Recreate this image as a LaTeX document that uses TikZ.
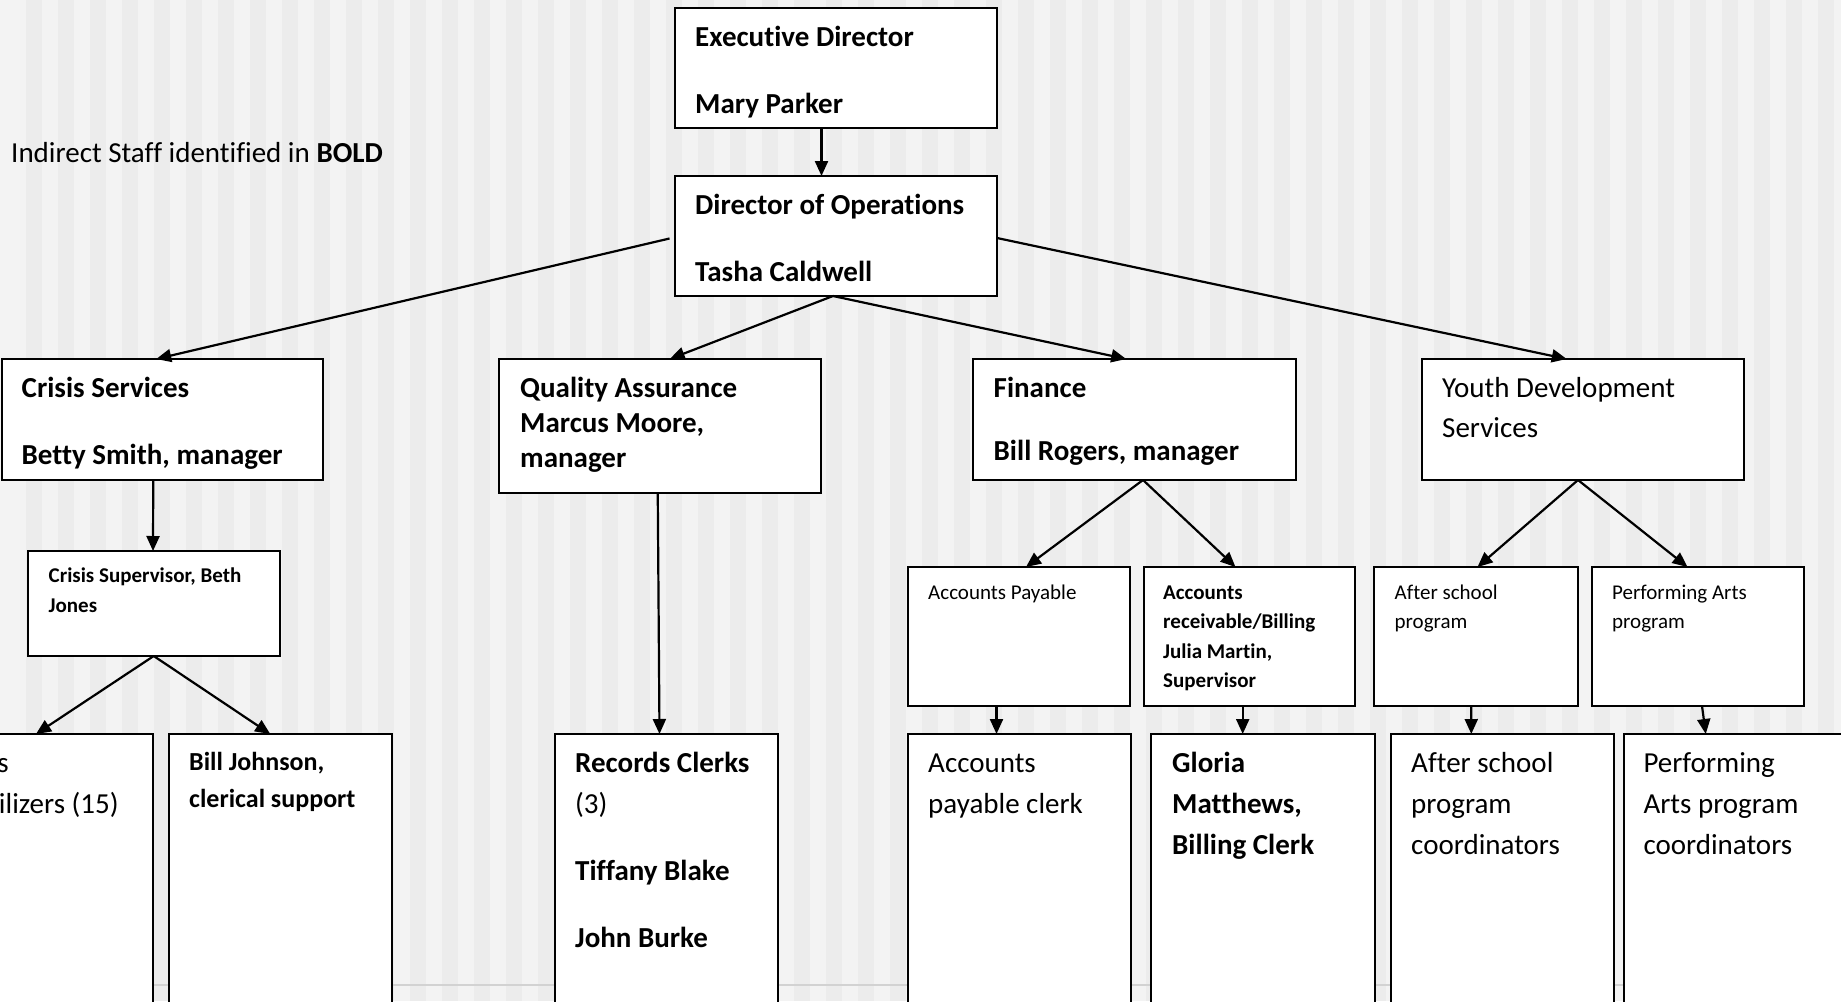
\documentclass[tikz,border=0pt]{standalone}
\usepackage{fontspec}
\setmainfont{Carlito}[Ligatures=NoCommon]
\usetikzlibrary{arrows.meta,calc}
\definecolor{bglight}{HTML}{F3F3F3}
\definecolor{bgdark}{HTML}{ECECEC}
\definecolor{ruleline}{HTML}{D2D2D2}
\begin{document}
\begin{tikzpicture}[x=1pt,y=-1pt,
  box/.style={draw=black, line width=2pt, fill=white, inner sep=0pt, outer sep=0pt, anchor=north west},
  big/.style={anchor=base west, inner sep=0pt, font=\fontsize{29}{35}\selectfont},
  bigb/.style={anchor=base west, inner sep=0pt, font=\fontsize{29}{35}\selectfont\bfseries},
  midb/.style={anchor=base west, inner sep=0pt, font=\fontsize{26}{31}\selectfont\bfseries},
  sm/.style={anchor=base west, inner sep=0pt, font=\fontsize{21}{25}\selectfont},
  smb/.style={anchor=base west, inner sep=0pt, font=\fontsize{21}{25}\selectfont\bfseries},
  arr/.style={line width=2.2pt, -{Triangle[length=15pt,width=13pt]}}]
\useasboundingbox (0,0) rectangle (1841,1001);
\clip (0,0) rectangle (1841,1001);
% background
\fill[bglight] (0,0) rectangle (1841,1001);
\foreach \k in {0,...,57} {\fill[bgdark] (26+32*\k,0) rectangle (42+32*\k,1001);}
\draw[ruleline, line width=1.5pt] (0,985) -- (1841,985);

% boxes
\node[box, minimum width=322pt, minimum height=120.5pt] (ed) at (675,7.5) {};
\node[box, minimum width=322pt, minimum height=120pt] (do) at (675,176) {};
\node[box, minimum width=321.5pt, minimum height=121pt] (cs) at (1.5,359) {};
\node[box, minimum width=322.5pt, minimum height=134pt] (qa) at (498.5,359) {};
\node[box, minimum width=322.5pt, minimum height=121pt] (fin) at (973,359) {};
\node[box, minimum width=322.5pt, minimum height=121pt] (yd) at (1421.5,359) {};
\node[box, minimum width=251.5pt, minimum height=105pt] (sup) at (28,551) {};
\node[box, minimum width=222pt, minimum height=139pt] (ap) at (907.5,567) {};
\node[box, minimum width=211pt, minimum height=139pt] (ar) at (1143.5,567) {};
\node[box, minimum width=203.5pt, minimum height=139pt] (as) at (1374,567) {};
\node[box, minimum width=212pt, minimum height=139pt] (pa) at (1591.5,567) {};
\node[box, minimum width=223pt, minimum height=280pt] (stab) at (-70,734) {};
\node[box, minimum width=223.5pt, minimum height=280pt] (bj) at (168.5,734) {};
\node[box, minimum width=223.5pt, minimum height=280pt] (rc) at (554.5,734) {};
\node[box, minimum width=223.5pt, minimum height=280pt] (apc) at (907.5,734) {};
\node[box, minimum width=224pt, minimum height=280pt] (gm) at (1150.5,734) {};
\node[box, minimum width=223pt, minimum height=280pt] (asc) at (1390.5,734) {};
\node[box, minimum width=230pt, minimum height=280pt] (pac) at (1623.5,734) {};

% connectors
\draw[arr] ($(ed.south)+(-14.5,0)$) -- ($(do.north)+(-14.5,0)$);
\draw[arr] ($(do.west)+(-5.5,2.5)$) -- ($(cs.north)+(-6,0)$);
\draw[arr] ($(do.east)+(0,2)$) -- ($(yd.north)+(-16,0)$);
\draw[arr] ($(do.south)+(-3,0)$) -- ($(qa.north)+(10,0)$);
\draw[arr] ($(do.south)+(-3,0)$) -- ($(fin.north)+(-8,0)$);
\draw[arr] ($(cs.south)+(-9,0)$) -- ($(sup.north)+(-0.75,0)$);
\draw[arr] (sup.south) -- ($(stab.north)+(-5.5,0)$);
\draw[arr] (sup.south) -- ($(bj.north)+(-10,0)$);
\draw[arr] ($(qa.south)+(-2,0)$) -- ($(rc.north)+(-6.75,0)$);
\draw[arr] ($(fin.south)+(8.75,0)$) -- ($(ap.north)+(7.5,0)$);
\draw[arr] ($(fin.south)+(8.75,0)$) -- ($(ar.north)+(-13.5,0)$);
\draw[arr] ($(yd.south)+(-4.75,0)$) -- ($(as.north)+(1.75,0)$);
\draw[arr] ($(yd.south)+(-4.75,0)$) -- ($(pa.north)+(-10,0)$);
\draw[arr] ($(ap.south)+(-22,0)$) -- ($(apc.north)+(-22.75,0)$);
\draw[arr] ($(ar.south)+(-6.3,0)$) -- ($(gm.north)+(-19.8,0)$);
\draw[arr] ($(as.south)+(-4.5,0)$) -- ($(asc.north)+(-30.7,0)$);
\draw[arr] ($(pa.south)+(4.5,0)$) -- ($(pac.north)+(-32.75,0)$);

% texts
\node[big] (title) at (11,162) {Indirect Staff identified in \textbf{BOLD}};
\node[bigb] (ed1) at (695,46.5) {Executive Director};
\node[bigb] (ed2) at (695,113) {Mary Parker};
\node[bigb] (do1) at (695,214) {Director of Operations};
\node[bigb] (do2) at (695,281) {Tasha Caldwell};
\node[bigb] (cs1) at (21.5,397) {Crisis Services};
\node[bigb] (cs2) at (21.5,464) {Betty Smith, manager};
\node[bigb] (qa1) at (520,397) {Quality Assurance};
\node[bigb] (qa2) at (520,432.5) {Marcus Moore,};
\node[bigb] (qa3) at (520,467.5) {manager};
\node[bigb] (fin1) at (993.5,397) {Finance};
\node[bigb] (fin2) at (993.5,460) {Bill Rogers, manager};
\node[big] (yd1) at (1442,397) {Youth Development};
\node[big] (yd2) at (1442,437.5) {Services};
\node[smb] (sup1) at (48.5,582) {Crisis Supervisor, Beth};
\node[smb] (sup2) at (48.5,612) {Jones};
\node[sm] (ap1) at (928,599) {Accounts Payable};
\node[smb] (ar1) at (1163,599) {Accounts};
\node[smb] (ar2) at (1163,628.5) {receivable/Billing};
\node[smb] (ar3) at (1163,658) {Julia Martin,};
\node[smb] (ar4) at (1163,687.5) {Supervisor};
\node[sm] (as1) at (1394.5,599) {After school};
\node[sm] (as2) at (1394.5,628.5) {program};
\node[sm] (pa1) at (1612,599) {Performing Arts};
\node[sm] (pa2) at (1612,628.5) {program};
\node[big] (stab1) at (-53,772.2) {Crisis};
\node[big] (stab2) at (-53,813.2) {Stabilizers (15)};
\node[midb] (bj1) at (189,770) {Bill Johnson,};
\node[midb] (bj2) at (189,807) {clerical support};
\node[bigb] (rc1) at (575,772.2) {Records Clerks};
\node[big] (rc2) at (575,813.2) {(3)};
\node[bigb] (rc3) at (575,880.2) {Tiffany Blake};
\node[bigb] (rc4) at (575,947.2) {John Burke};
\node[big] (apc1) at (928,772.2) {Accounts};
\node[big] (apc2) at (928,813.2) {payable clerk};
\node[bigb] (gm1) at (1172,772.2) {Gloria};
\node[bigb] (gm2) at (1172,813.2) {Matthews,};
\node[bigb] (gm3) at (1172,854) {Billing Clerk};
\node[big] (asc1) at (1411,772.2) {After school};
\node[big] (asc2) at (1411,813.2) {program};
\node[big] (asc3) at (1411,854) {coordinators};
\node[big] (pac1) at (1643.3,772.2) {Performing};
\node[big] (pac2) at (1643.3,813.2) {Arts program};
\node[big] (pac3) at (1643.3,854) {coordinators};
\end{tikzpicture}
\end{document}
